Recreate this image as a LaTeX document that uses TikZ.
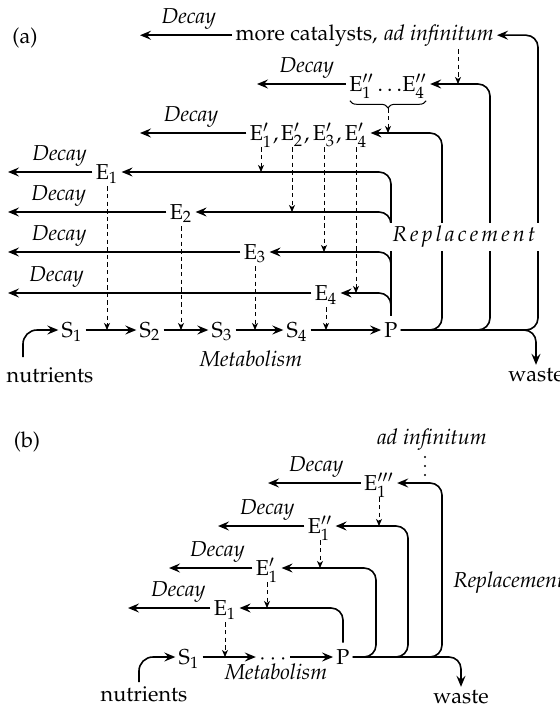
\documentclass[tikz,border=0pt]{standalone}
\usepackage[T1]{fontenc}
\usepackage{mathpazo}
\usetikzlibrary{arrows.meta,decorations.pathreplacing}
\begin{document}
\fontsize{10.8}{13}\selectfont
\begin{tikzpicture}[x=0.5pt,y=-0.5pt,
  sym/.style={text height=9pt,text depth=2pt,inner sep=1.5pt},
  txt/.style={inner sep=1.5pt},
  flow/.style={line width=0.8pt,-{Stealth[length=5.5pt,width=4.5pt,inset=2pt]}},
  repl/.style={flow,rounded corners=6pt},
  feed/.style={line width=0.5pt,dash pattern=on 2.2pt off 1.6pt,-{Stealth[length=3.5pt,width=3pt,inset=1pt]}},
  decay/.style={above=2.5pt,inner sep=0pt,font=\itshape},
  comma/.style={anchor=base west,inner sep=0pt}]
\useasboundingbox (0,0) rectangle (560,708);

% ---------------- (a) four enzymes, each replaced by its own catalysts
\node (labA) at (25,38) {(a)};
\node[txt,anchor=base] (adinf) at (439,40) {\textit{ad infinitum}};
\node[txt,anchor=base east] (more) at (adinf.base west) {more catalysts,};
\node[sym] (Epp) at (388,84) {E$''_1\ldots$E$''_4$};
\node[sym] (ep1) at (261,133) {E$'_1$};
\node[sym] (ep2) at (292,133) {E$'_2$};
\node[sym] (ep3) at (324,133) {E$'_3$};
\node[sym] (ep4) at (356,133) {E$'_4$};
\node[comma] (cm1) at ([xshift=-1.5pt]ep1.base east) {,};
\node[comma] (cm2) at ([xshift=-1.5pt]ep2.base east) {,};
\node[comma] (cm3) at ([xshift=-1.5pt]ep3.base east) {,};
\node[sym] (E1) at (107,172) {E$_1$};
\node[sym] (E2) at (181,212) {E$_2$};
\node[sym] (E3) at (255,252) {E$_3$};
\node[sym] (E4) at (326,293) {E$_4$};
\node[sym] (S1) at (72,330) {S$_1$};
\node[sym] (S2) at (150,330) {S$_2$};
\node[sym] (S3) at (222,330) {S$_3$};
\node[sym] (S4) at (297,330) {S$_4$};
\node[sym] (P) at (391,330) {P};
\node[txt] (nut) at (50,375) {nutrients};
\node[txt] (met) at (251,359) {\textit{Metabolism}};
\node[txt] (waste) at (536,375) {waste};

% decay
\coordinate (dA0) at (140,0);
\coordinate (dA1) at (257,0);
\coordinate (dA2) at (140,0);
\coordinate (dA3) at (8,0);
\draw[flow] (more.west) -- (more.west -| dA0) node[decay,pos=0.47] {Decay};
\draw[flow] (Epp.west) -- (Epp.west -| dA1) node[decay,pos=0.44] {Decay};
\draw[flow] (ep1.west) -- (ep1.west -| dA2) node[decay,pos=0.52] {Decay};
\draw[flow] (E1.west) -- (E1.west -| dA3) node[decay,pos=0.39] {Decay};
\draw[flow] (E2.west) -- (E2.west -| dA3) node[decay,pos=0.68] {Decay};
\draw[flow] (E3.west) -- (E3.west -| dA3) node[decay,pos=0.78] {Decay};
\draw[flow] (E4.west) -- (E4.west -| dA3) node[decay,pos=0.84] {Decay};

% metabolism
\coordinate (nA) at (23,357);
\draw[flow,rounded corners=7pt] (nA) |- (S1.west);
\draw[flow] (S1) -- (S2);
\draw[flow] (S2) -- (S3);
\draw[flow] (S3) -- (S4);
\draw[flow] (S4) -- (P);

% catalysis
\draw[feed] (E1.south) -- (E1.south |- S1.center);
\draw[feed] (E2.south) -- (E2.south |- S1.center);
\draw[feed] (E3.south) -- (E3.south |- S1.center);
\draw[feed] (E4.south) -- (E4.south |- S1.center);
\draw[feed] (ep1.south) -- (ep1.south |- E1.east);
\draw[feed] (ep2.south) -- (ep2.south |- E2.east);
\draw[feed] (ep3.south) -- (ep3.south |- E3.east);
\draw[feed] (ep4.south) -- (ep4.south |- E4.east);
\draw[decorate,decoration={brace,mirror,amplitude=3.5pt},line width=0.5pt]
  ([xshift=2pt,yshift=-1.2pt]Epp.south west) -- ([xshift=-2pt,yshift=-1.2pt]Epp.south east);
\path (Epp.south) ++(0,10) coordinate (bt);
\draw[feed] (bt) -- (bt |- ep4.east);
\path ([xshift=9.5pt]adinf.south) coordinate (ai);
\draw[feed] (ai) -- (ai |- Epp.east);

% replacement
\coordinate (vA1) at (442,250);
\coordinate (vA2) at (490,250);
\coordinate (vA3) at (538,250);
\draw[repl] (P.north) |- (E1.east);
\draw[repl] (P.north) |- (E2.east);
\draw[repl] (P.north) |- (E3.east);
\draw[repl] (P.north) |- (E4.east);
\draw[repl] (P.east) -| (vA1) |- (ep4.east);
\draw[repl] (P.east) -| (vA2) |- (Epp.east);
\draw[repl] (P.east) -| (vA3) |- (adinf.east);
\draw[repl] (P.east) -| (waste.north);
\node[fill=white,minimum width=78pt,minimum height=14pt,inner sep=0] (rep) at (464,237)
  {\itshape R\kern1.6pt e\kern1.6pt p\kern1.6pt l\kern1.6pt a\kern1.6pt c\kern1.6pt e\kern1.6pt m\kern1.6pt e\kern1.6pt n\kern1.6pt t};

% ---------------- (b) a single enzyme and its chain of replacements
\node (labB) at (27,442) {(b)};
\node[txt] (adinfB) at (432,440) {\textit{ad infinitum}};
\coordinate (vdA) at (425,457);
\coordinate (vdB) at (425,477);
\draw[line width=1.1pt,line cap=round,dash pattern=on 0pt off 4.5pt] (vdA) -- (vdB);
\node[sym] (eppp) at (379,483) {E$'''_1$};
\node[sym] (epp) at (320,526) {E$''_1$};
\node[sym] (ep) at (267,568) {E$'_1$};
\node[sym] (e1) at (225,608) {E$_1$};
\node[sym] (sB) at (189,657) {S$_1$};
\node[sym] (dotsB) at (273,657) {$\cdots$};
\node[sym] (pB) at (343,657) {P};
\node[txt] (nutB) at (144,694) {nutrients};
\node[txt] (metB) at (276,672) {\textit{Metabolism}};
\node[txt] (wasteB) at (461,697) {waste};
\node[anchor=west,inner sep=0] (repB) at (453,583) {\textit{Replacement}};

\coordinate (dB1) at (268,0);
\coordinate (dB2) at (218,0);
\coordinate (dB3) at (169,0);
\coordinate (dB4) at (128,0);
\draw[flow] (eppp.west) -- (eppp.west -| dB1) node[decay,pos=0.48] {Decay};
\draw[flow] (epp.west) -- (epp.west -| dB2) node[decay,pos=0.43] {Decay};
\draw[flow] (ep.west) -- (ep.west -| dB3) node[decay,pos=0.42] {Decay};
\draw[flow] (e1.west) -- (e1.west -| dB4) node[decay,pos=0.39] {Decay};

\coordinate (nB) at (139,682);
\draw[flow,rounded corners=7pt] (nB) |- (sB.west);
\draw[flow] (sB) -- (dotsB);
\draw[flow] (dotsB) -- (pB);

\draw[feed] (eppp.south) -- (eppp.south |- epp.east);
\draw[feed] (epp.south) -- (epp.south |- ep.east);
\draw[feed] (ep.south) -- (ep.south |- e1.east);
\draw[feed] (e1.south) -- (e1.south |- sB.center);

\coordinate (vB1) at (376,620);
\coordinate (vB2) at (408,620);
\coordinate (vB3) at (442,620);
\draw[repl] (pB.north) |- (e1.east);
\draw[repl] (pB.east) -| (vB1) |- (ep.east);
\draw[repl] (pB.east) -| (vB2) |- (epp.east);
\draw[repl] (pB.east) -| (vB3) |- (eppp.east);
\draw[repl] (pB.east) -| (wasteB.north);
\end{tikzpicture}
\end{document}
